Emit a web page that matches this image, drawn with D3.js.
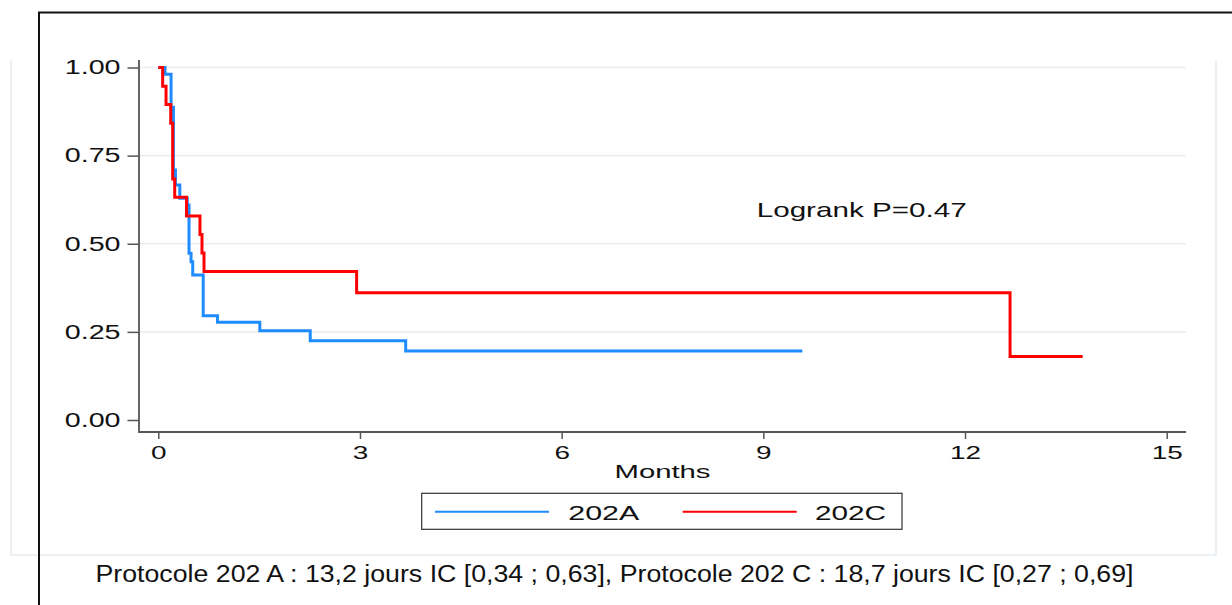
<!DOCTYPE html>
<html>
<head>
<meta charset="utf-8">
<script src="https://cdn.jsdelivr.net/npm/d3@7"></script>
<style>
  html, body { margin: 0; padding: 0; background: #fff; }
  svg { display: block; font-family: "Liberation Sans", Arial, sans-serif; }
</style>
</head>
<body>
<svg id="chart" width="1232" height="605"></svg>
<script>
// Kaplan-Meier step data: event times (months) and survival after each event
const timesA = [0, 0.10, 0.19, 0.225, 0.255, 0.32, 0.43, 0.457, 0.487, 0.512, 0.668, 0.88, 1.51, 2.26, 3.68];
const survA  = [1.0, 0.981, 0.887, 0.709, 0.667, 0.629, 0.610, 0.473, 0.449, 0.411, 0.296, 0.277, 0.253, 0.225, 0.196];
const lastA = 9.58;

const timesC = [0, 0.065, 0.115, 0.185, 0.214, 0.244, 0.42, 0.62, 0.65, 0.68, 2.95, 12.67];
const survC  = [1.0, 0.947, 0.895, 0.842, 0.684, 0.632, 0.579, 0.526, 0.474, 0.421, 0.361, 0.180];
const lastC = 13.75;

const xTicks = [0, 3, 6, 9, 12, 15];
const yTicks = [0, 0.25, 0.5, 0.75, 1];
const seriesNames = ["202A", "202C"];
const seriesColors = ["#1E8CFF", "#FF0000"];

const svg = d3.select("#chart");
const stretch = 1.47; // wide glyphs

const x = d3.scaleLinear().domain([0, 15]).range([158.3, 1166.7]);
const y = d3.scaleLinear().domain([0, 1]).range([420, 67.5]);

const plotLeft = 139, plotRight = 1186, plotTop = 60, plotBottom = 432;

// outer panel (light border)
svg.append("path")
  .attr("d", `M11,${plotTop} V555 H1216 V${plotTop}`)
  .attr("fill", "none").attr("stroke", "#e4ecf0").attr("stroke-width", 1.5);

// outer black frame
svg.append("path")
  .attr("d", "M39,605 V12.5 H1232")
  .attr("fill", "none").attr("stroke", "#111").attr("stroke-width", 2);

// gridlines
svg.append("g").selectAll("line").data(yTicks.filter(d => d > 0)).join("line")
  .attr("x1", plotLeft).attr("x2", plotRight)
  .attr("y1", d => y(d)).attr("y2", d => y(d))
  .attr("stroke", "#e9eff1").attr("stroke-width", 1.6);

// axes
const yAxis = d3.axisLeft(y).tickValues(yTicks).tickFormat(d3.format(".2f"))
  .tickSize(11.5).tickPadding(7);
const gy = svg.append("g").attr("transform", `translate(${plotLeft},0)`).call(yAxis);
gy.select(".domain").remove();
gy.selectAll(".tick line").attr("stroke", "#555").attr("stroke-width", 1.5);
gy.selectAll(".tick text").attr("font-size", 19.5).attr("fill", "#111")
  .attr("font-family", "Liberation Sans, Arial, sans-serif");

const xAxis = d3.axisBottom(x).tickValues(xTicks).tickFormat(d3.format("d"))
  .tickSize(7).tickPadding(7);
const gx = svg.append("g").attr("transform", `translate(0,${plotBottom})`).call(xAxis);
gx.select(".domain").remove();
gx.selectAll(".tick line").attr("stroke", "#555").attr("stroke-width", 1.5);
gx.selectAll(".tick text").attr("font-size", 19).attr("fill", "#111")
  .attr("font-family", "Liberation Sans, Arial, sans-serif");

// axis lines
svg.append("path")
  .attr("d", `M${plotLeft},${plotTop} V${plotBottom} H${plotRight}`)
  .attr("fill", "none").attr("stroke", "#555").attr("stroke-width", 1.8);

// x axis title
svg.append("text")
  .attr("x", (plotLeft + plotRight) / 2).attr("y", 478)
  .attr("text-anchor", "middle").attr("font-size", 19).attr("fill", "#111")
  .attr("textLength", 96).attr("lengthAdjust", "spacingAndGlyphs")
  .text("Months");

// survival curves
const line = d3.line().curve(d3.curveStepAfter).x(d => x(d[0])).y(d => y(d[1]));
const ptsA = timesA.map((t, i) => [t, survA[i]]).concat([[lastA, survA[survA.length - 1]]]);
const ptsC = timesC.map((t, i) => [t, survC[i]]).concat([[lastC, survC[survC.length - 1]]]);

svg.append("path").datum(ptsA).attr("d", line)
  .attr("fill", "none").attr("stroke", seriesColors[0]).attr("stroke-width", 3);
svg.append("path").datum(ptsC).attr("d", line)
  .attr("fill", "none").attr("stroke", seriesColors[1]).attr("stroke-width", 3);

// annotation
svg.append("text").attr("x", 756.7).attr("y", 216.5)
  .attr("font-size", 21).attr("fill", "#111")
  .attr("textLength", 210).attr("lengthAdjust", "spacingAndGlyphs")
  .text("Logrank P=0.47");

// legend
const legend = svg.append("g");
legend.append("rect").attr("x", 421.7).attr("y", 493.3).attr("width", 480.3).attr("height", 36)
  .attr("fill", "#fff").attr("stroke", "#333").attr("stroke-width", 1.2);
const legX = [435, 682.7];
const legTextX = [568.3, 815];
seriesNames.forEach((name, i) => {
  legend.append("line").attr("x1", legX[i]).attr("x2", legX[i] + 114)
    .attr("y1", 511.7).attr("y2", 511.7)
    .attr("stroke", seriesColors[i]).attr("stroke-width", 2);
  legend.append("text").attr("x", legTextX[i]).attr("y", 520)
    .attr("font-size", 20).attr("fill", "#111")
    .attr("textLength", 71).attr("lengthAdjust", "spacingAndGlyphs")
    .text(name);
});

// caption
svg.append("text").attr("x", 95.5).attr("y", 582)
  .attr("font-size", 23.5).attr("fill", "#111")
  .attr("textLength", 1038).attr("lengthAdjust", "spacingAndGlyphs")
  .text("Protocole 202 A : 13,2 jours IC [0,34 ; 0,63], Protocole 202 C : 18,7 jours IC [0,27 ; 0,69]");

// widen tick label glyphs
svg.selectAll(".tick text").each(function () {
  const w = this.getComputedTextLength();
  d3.select(this).attr("textLength", w * stretch).attr("lengthAdjust", "spacingAndGlyphs");
});
</script>
</body>
</html>
